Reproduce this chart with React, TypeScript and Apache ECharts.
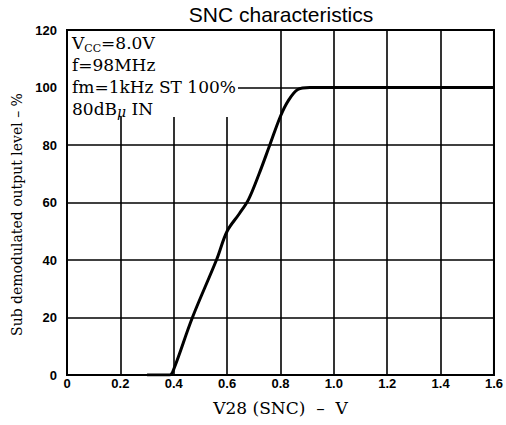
import React, { useEffect, useRef } from "react";
import * as echarts from "echarts";

const xValues = [0.3, 0.385, 0.4, 0.47, 0.56, 0.6, 0.645, 0.68, 0.72, 0.76, 0.8, 0.83, 0.865, 0.91, 1.0, 1.6];
const yValues = [0, 0, 2, 20, 40, 50, 56, 61, 70, 80, 90, 95.5, 99.3, 100, 100, 100];
const conditionLines = ["{v|V}{sub|CC}{v|=8.0V}", "{v|f=98MHz}", "{v|fm=1kHz ST 100%}", "{v|80dB}{mu|μ}{v| IN}"];

export default function App() {
  const ref = useRef<HTMLDivElement>(null);
  useEffect(() => {
    if (!ref.current) return;
    const chart = echarts.init(ref.current, null, { renderer: "svg" });
    const serif = "'DejaVu Serif', 'Liberation Serif', serif";
    const labelFont = { fontFamily: "'Liberation Sans', Arial, sans-serif", fontWeight: "bold" as const, fontSize: 13, color: "#000" };
    chart.setOption({
      animation: false,
      backgroundColor: "#fff",
      grid: { left: 67, right: 11, top: 30, bottom: 50, show: true, borderColor: "#000", borderWidth: 2 },
      xAxis: {
        type: "value",
        min: 0,
        max: 1.6,
        interval: 0.2,
        name: "V28 (SNC)  –  V",
        nameLocation: "middle",
        nameGap: 24,
        nameTextStyle: { fontFamily: serif, fontSize: 17, color: "#000" },
        axisLine: { show: true, lineStyle: { color: "#000", width: 2 } },
        axisTick: { show: false },
        splitLine: { show: true, lineStyle: { color: "#000", width: 1.6 } },
        axisLabel: {
          ...labelFont,
          margin: 2,
          formatter: (v: number) => (v === 0 ? "0" : v.toFixed(1)),
        },
      },
      yAxis: {
        type: "value",
        min: 0,
        max: 120,
        interval: 20,
        name: "Sub demodulated output level – %",
        nameLocation: "middle",
        nameGap: 42,
        nameTextStyle: { fontFamily: serif, fontSize: 14, color: "#000", padding: [0, 24, 0, 0] },
        axisLine: { show: true, lineStyle: { color: "#000", width: 2 } },
        axisTick: { show: false },
        splitLine: { show: true, lineStyle: { color: "#000", width: 1.6 } },
        axisLabel: { ...labelFont, margin: 10 },
      },
      series: [
        {
          type: "line",
          data: xValues.map((x, i) => [x, yValues[i]]),
          smooth: 0.35,
          showSymbol: false,
          lineStyle: { color: "#000", width: 3 },
          z: 3,
        },
      ],
      graphic: [
        {
          type: "text",
          x: 281,
          y: 14,
          style: {
            text: "SNC characteristics",
            align: "center",
            verticalAlign: "middle",
            fill: "#000",
            fontFamily: "'Liberation Sans', Arial, sans-serif",
            fontSize: 21,
          },
        },
        {
          type: "rect",
          shape: { x: 68, y: 31, width: 170, height: 86 },
          style: { fill: "#fff" },
          z: 10,
        },
        {
          type: "text",
          x: 72,
          y: 32,
          z: 11,
          style: {
            text: conditionLines.join("\n"),
            fill: "#000",
            lineHeight: 22,
            rich: {
              v: { fontFamily: serif, fontSize: 17, color: "#000", lineHeight: 22 },
              sub: { fontFamily: serif, fontSize: 11, color: "#000", padding: [10, 0, 0, 0], lineHeight: 22 },
              mu: { fontFamily: serif, fontSize: 14, fontStyle: "italic", color: "#000", padding: [6, 0, 0, 0], lineHeight: 22 },
            },
          },
        },
      ],
    });
    return () => chart.dispose();
  }, []);
  return <div ref={ref} style={{ position: "fixed", left: 0, top: 0, width: 506, height: 425 }} />;
}
